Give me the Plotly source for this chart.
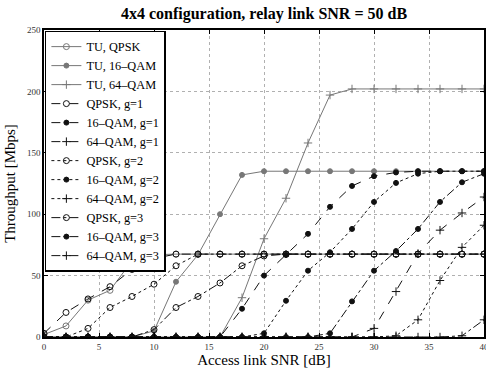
import plotly.graph_objects as go

snr = list(range(0, 41, 2))

tu_qpsk  = [2, 9, 30, 38, 62, 67] + [67.5] * 15
tu_16qam = [0, 0, 0, 0, 0, 5, 45, 67, 100, 132] + [135] * 11
tu_64qam = [0] * 9 + [32, 80, 113, 158, 197] + [202] * 7

qpsk_g1  = [3, 20, 31, 41, 55, 64] + [67.5] * 15
qam16_g1 = [0] * 9 + [23, 50, 67, 84, 106, 123, 131, 134] + [135] * 4
qam64_g1 = [0] * 15 + [7, 37, 68, 87, 101, 114]

qpsk_g2  = [0, 0, 7, 24, 33, 43, 58] + [67.5] * 14
qam16_g2 = [0] * 10 + [3, 29.5, 54, 69, 88, 110, 125.5, 133] + [135] * 3
qam64_g2 = [0] * 16 + [1, 14, 46, 73, 91]

qpsk_g3  = [0] * 5 + [6, 24, 33, 44, 58, 66] + [67.5] * 10
qam16_g3 = [0] * 13 + [3, 29, 54, 70, 88, 110, 126, 133]
qam64_g3 = [0] * 19 + [1, 14]

series = [
    ("TU, QPSK", tu_qpsk, "#777777", "solid", "circle-open", 6),
    ("TU, 16–QAM", tu_16qam, "#777777", "solid", "circle", 5),
    ("TU, 64–QAM", tu_64qam, "#777777", "solid", "cross-thin-open", 6),
    ("QPSK, g=1", qpsk_g1, "#111111", "dash", "circle-open", 6),
    ("16–QAM, g=1", qam16_g1, "#111111", "dash", "circle", 5),
    ("64–QAM, g=1", qam64_g1, "#111111", "dash", "cross-thin-open", 6),
    ("QPSK, g=2", qpsk_g2, "#111111", "dot", "circle-open", 6),
    ("16–QAM, g=2", qam16_g2, "#111111", "dot", "circle", 5),
    ("64–QAM, g=2", qam64_g2, "#111111", "dot", "cross-thin-open", 6),
    ("QPSK, g=3", qpsk_g3, "#111111", "dashdot", "circle-open", 6),
    ("16–QAM, g=3", qam16_g3, "#111111", "dashdot", "circle", 5),
    ("64–QAM, g=3", qam64_g3, "#111111", "dashdot", "cross-thin-open", 6),
]

fig = go.Figure()
for name, vals, color, dash, sym, size in series:
    fig.add_trace(go.Scatter(
        x=snr, y=vals, name=name, mode="lines+markers",
        line=dict(color=color, width=1, dash=dash),
        marker=dict(symbol=sym, size=size, color=color,
                    line=dict(color=color, width=1)),
    ))

font = "Liberation Serif"
axis_common = dict(
    showline=True, linecolor="black", linewidth=1.5, mirror="ticks",
    ticks="inside", ticklen=4, tickcolor="black",
    showgrid=True, gridcolor="#b0b0b0", griddash="dot", gridwidth=1,
    zeroline=False, automargin=False, ticklabeloverflow="allow",
    tickfont=dict(family=font, size=9, color="#333"),
)
fig.update_layout(
    width=486, height=370,
    margin=dict(l=44, r=2, t=30, b=33),
    paper_bgcolor="white", plot_bgcolor="white",
    title=dict(text="<b>4x4 configuration, relay link SNR = 50 dB</b>",
               x=0.5, xref="paper", xanchor="center",
               y=0.963, yanchor="middle",
               font=dict(family=font, size=16, color="black")),
    xaxis=dict(range=[0, 40], tickvals=list(range(0, 41, 5)),
               title=dict(text="Access link SNR [dB]", standoff=0,
                          font=dict(family=font, size=15, color="black")),
               **axis_common),
    yaxis=dict(range=[0, 250], tickvals=list(range(0, 251, 50)),
               title=dict(text="Throughput [Mbps]", standoff=8,
                          font=dict(family=font, size=15, color="black")),
               **axis_common),
    legend=dict(x=0.002, y=0.998, xanchor="left", yanchor="top",
                bgcolor="white", bordercolor="black", borderwidth=1.5,
                font=dict(family=font, size=12.3, color="black"),
                tracegroupgap=0, itemwidth=30),
    showlegend=True,
)

fig.write_html("out.html", config={"displayModeBar": False},
               post_script="document.body.style.margin='0px';")
